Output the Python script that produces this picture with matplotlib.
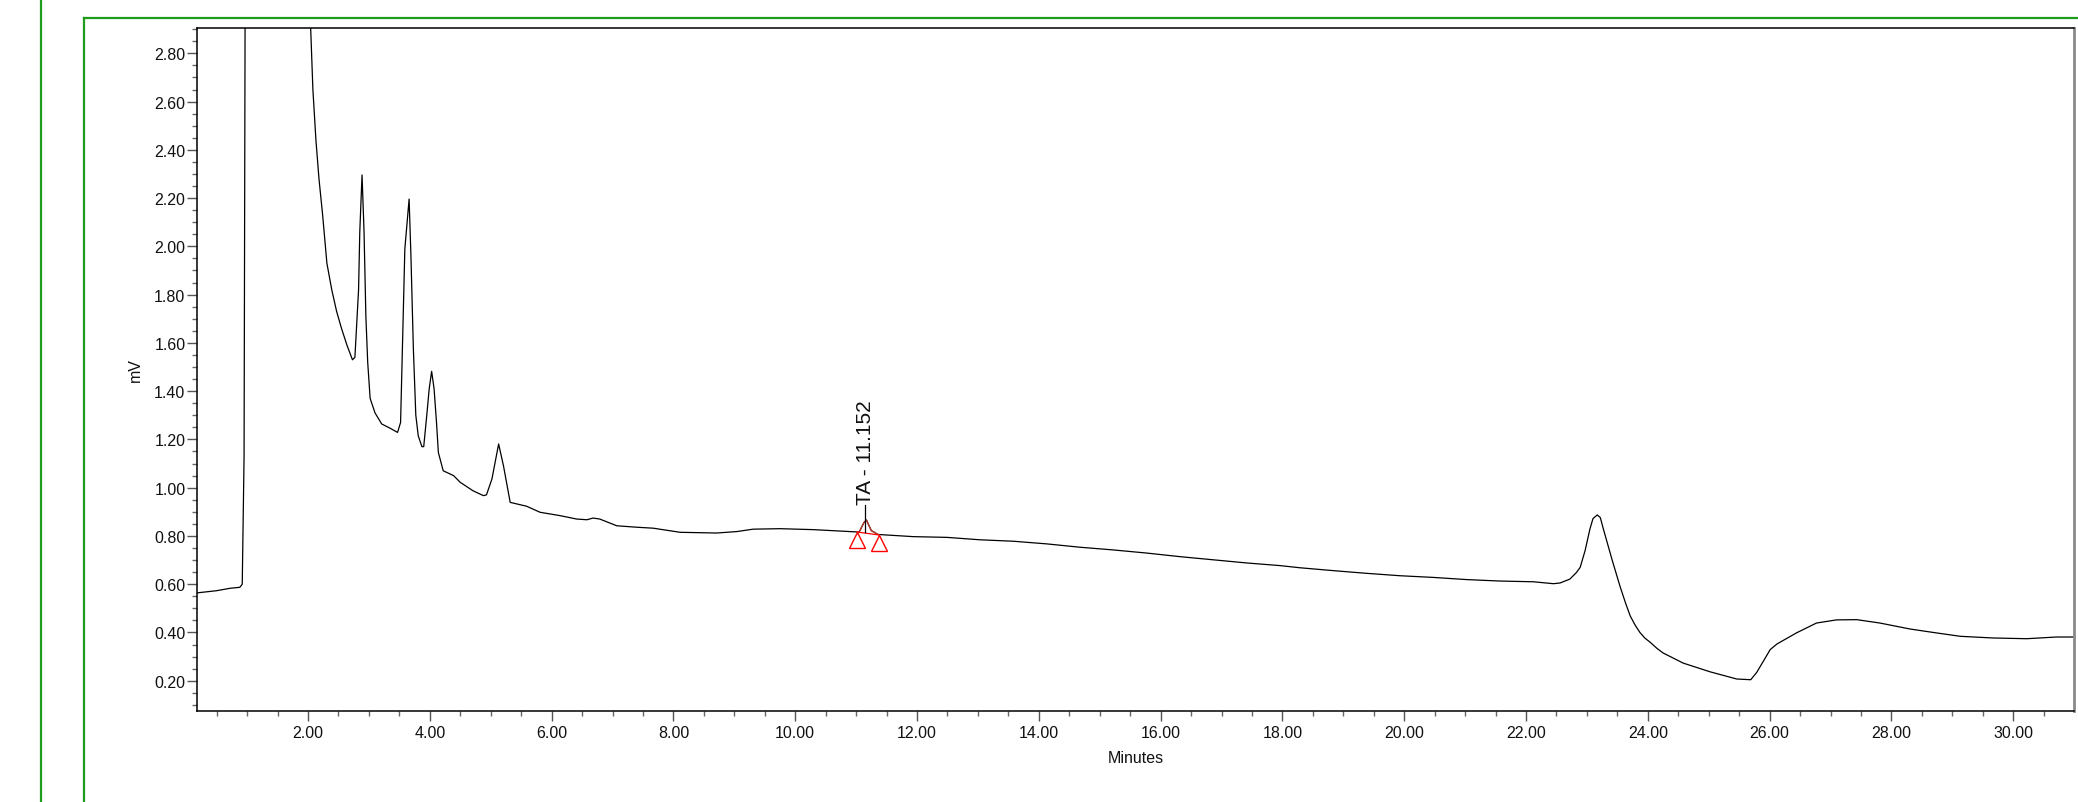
import numpy as np
import matplotlib
matplotlib.use('Agg')
import matplotlib.pyplot as plt
from matplotlib.lines import Line2D
from matplotlib.ticker import MultipleLocator, FormatStrFormatter
from matplotlib.transforms import offset_copy

plt.rcParams['font.family'] = ['Liberation Sans', 'DejaVu Sans']

# Chromatogram trace (minutes, mV)
time = [0.18, 0.50, 0.72, 0.88, 0.92, 0.95, 0.97, 1.50, 2.03, 2.08, 2.13, 2.18, 2.24,
        2.31, 2.39, 2.47, 2.55, 2.64, 2.73, 2.77, 2.83, 2.85, 2.887, 2.92, 2.95, 2.98,
        3.02, 3.10, 3.21, 3.35, 3.47, 3.52, 3.55, 3.59, 3.66, 3.69, 3.73, 3.77, 3.81,
        3.87, 3.90, 3.95, 3.99, 4.03, 4.07, 4.11, 4.14, 4.22, 4.39, 4.50, 4.71, 4.88,
        4.93, 5.02, 5.13, 5.21, 5.32, 5.59, 5.81, 6.14, 6.41, 6.58, 6.68, 6.79, 7.07,
        7.40, 7.67, 8.11, 8.71, 9.04, 9.31, 9.75, 10.30, 10.85, 11.05, 11.13, 11.17,
        11.20, 11.25, 11.36, 11.94, 12.49, 13.03, 13.58, 14.13, 14.68, 15.22, 15.77,
        16.32, 16.87, 17.41, 17.96, 18.29, 18.84, 19.38, 19.93, 20.48, 21.03, 21.57,
        22.12, 22.45, 22.56, 22.72, 22.83, 22.89, 22.97, 23.05, 23.10, 23.17, 23.22,
        23.27, 23.41, 23.54, 23.63, 23.71, 23.79, 23.87, 23.95, 24.04, 24.15, 24.25,
        24.58, 25.02, 25.46, 25.69, 25.79, 26.01, 26.12, 26.44, 26.77, 27.10, 27.43,
        27.81, 28.31, 28.74, 29.13, 29.67, 30.22, 30.71, 30.99]
signal = [0.564, 0.573, 0.583, 0.587, 0.600, 1.13, 3.30, 3.60, 3.00, 2.65, 2.44, 2.28, 2.13,
          1.93, 1.82, 1.73, 1.66, 1.59, 1.53, 1.54, 1.82, 2.06, 2.296, 2.06, 1.71, 1.52,
          1.37, 1.31, 1.264, 1.246, 1.229, 1.27, 1.575, 1.99, 2.196, 1.96, 1.575, 1.30, 1.215,
          1.17, 1.17, 1.30, 1.41, 1.482, 1.41, 1.27, 1.146, 1.07, 1.05, 1.022, 0.987, 0.967,
          0.97, 1.036, 1.181, 1.09, 0.939, 0.923, 0.898, 0.884, 0.870, 0.867, 0.874, 0.870, 0.842,
          0.836, 0.832, 0.815, 0.812, 0.818, 0.828, 0.830, 0.826, 0.819, 0.816, 0.856, 0.866,
          0.849, 0.822, 0.806, 0.797, 0.794, 0.784, 0.778, 0.767, 0.753, 0.742, 0.729,
          0.714, 0.701, 0.688, 0.677, 0.668, 0.656, 0.645, 0.635, 0.628, 0.619, 0.613,
          0.610, 0.602, 0.605, 0.621, 0.649, 0.670, 0.739, 0.829, 0.872, 0.887, 0.876,
          0.829, 0.704, 0.594, 0.525, 0.469, 0.431, 0.400, 0.377, 0.359, 0.334, 0.315,
          0.273, 0.237, 0.207, 0.204, 0.235, 0.329, 0.352, 0.398, 0.439, 0.452, 0.453,
          0.439, 0.414, 0.398, 0.384, 0.377, 0.374, 0.381, 0.381]

# Integrated peak: start / end of baseline and retention time
peak_name = 'TA'
peak_rt = 11.152
peak_start = (11.02, 0.816)
peak_end = (11.375, 0.804)

green = '#1f9b1f'
fig = plt.figure(figsize=(20.78, 8.03), dpi=100)

# green report frame lines
fig.add_artist(Line2D([41 / 2078, 41 / 2078], [0, 1], color=green, lw=1.6))
fig.add_artist(Line2D([84 / 2078, 84 / 2078], [0, 1 - 19 / 803], color=green, lw=1.6))
fig.add_artist(Line2D([84 / 2078, 1], [1 - 19 / 803, 1 - 19 / 803], color=green, lw=1.6))

ax = fig.add_axes([197.3 / 2078, 1 - 712 / 803, (2073.5 - 197.3) / 2078, (712 - 29) / 803])
ax.plot(time, signal, color='black', lw=0.9)

# peak highlighted in red, with baseline and start/end triangles
t = np.array(time)
s = np.array(signal)
m = (t >= peak_start[0]) & (t <= peak_end[0])
ax.plot(np.r_[peak_start[0], t[m], peak_end[0]], np.r_[peak_start[1], s[m], peak_end[1]],
        color='#c0392b', lw=0.9)
ax.plot([peak_start[0], peak_end[0]], [peak_start[1], peak_end[1]], color='red', lw=0.9)
tri = offset_copy(ax.transData, fig=fig, y=-6, units='points')
ax.plot([peak_start[0], peak_end[0]], [peak_start[1], peak_end[1]], ls='none', marker='^',
        ms=12, mfc='none', mec='red', mew=1.0, transform=tri)
top = np.interp(peak_rt, t, s)
ax.plot([peak_rt, peak_rt], [top - 0.045, top + 0.065], color='black', lw=0.9)
ax.text(peak_rt, top + 0.072, '%s - %.3f' % (peak_name, peak_rt), rotation=90,
        ha='center', va='bottom', fontsize=15, color='#111111')

ax.set_xlim(0.182, 30.99)
ax.set_ylim(0.0744, 2.905)
ax.xaxis.set_major_locator(MultipleLocator(2))
ax.xaxis.set_minor_locator(MultipleLocator(0.5))
ax.yaxis.set_major_locator(MultipleLocator(0.2))
ax.yaxis.set_minor_locator(MultipleLocator(0.05))
ax.xaxis.set_major_formatter(FormatStrFormatter('%.2f'))
ax.yaxis.set_major_formatter(FormatStrFormatter('%.2f'))

ax.tick_params(which='major', length=7, width=1.0, color='#555555', labelsize=11.5,
               labelcolor='#111111')
ax.tick_params(which='minor', length=3.8, width=1.0, color='#666666')
ax.tick_params(axis='y', which='major', pad=1.5)
ax.tick_params(axis='x', which='major', pad=3)

for side in ['left', 'bottom', 'top']:
    ax.spines[side].set_color('black')
    ax.spines[side].set_linewidth(1.1)
ax.spines['right'].set_color('#8a8a8a')
ax.spines['right'].set_linewidth(2)

ax.set_xlabel('Minutes', fontsize=11.5, labelpad=7, color='#111111')
ax.set_ylabel('mV', fontsize=11.5, labelpad=8, color='#111111')

plt.savefig('out.png', dpi=100)
